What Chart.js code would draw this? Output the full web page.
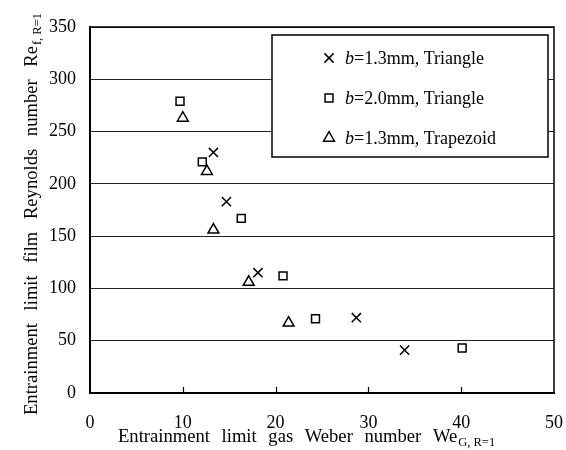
<!DOCTYPE html>
<html>
<head>
<meta charset="utf-8">
<script src="https://cdn.jsdelivr.net/npm/chart.js@4/dist/chart.umd.min.js"></script>
<style>
  html, body { margin: 0; padding: 0; background: #fff; }
  #wrap { width: 566px; height: 450px; }
</style>
</head>
<body>
<div id="wrap"><canvas id="chart" width="566" height="450"></canvas></div>
<script>
// ===== 資料=====
const seriesLabels = ['b=1.3mm, Triangle', 'b=2.0mm, Triangle', 'b=1.3mm, Trapezoid'];
const seriesStyles = ['crossRot', 'rect', 'triangle'];

const triA_We = [13.3, 14.7, 18.1, 28.7, 33.9];
const triA_Re = [230, 183, 115, 72, 41];

const triB_We = [9.7, 12.1, 16.3, 20.8, 24.3, 40.1];
const triB_Re = [279, 221, 167, 112, 71, 43];

const trap_We = [10.0, 12.6, 13.3, 17.1, 21.4];
const trap_Re = [263, 212, 156, 106, 67];

const xTicks = [0, 10, 20, 30, 40, 50];
const yTicks = [0, 50, 100, 150, 200, 250, 300, 350];

const SERIF = '"Liberation Serif", "DejaVu Serif", serif';

const toPts = (xs, ys) => xs.map((x, i) => ({ x: x, y: ys[i] }));

// ===== 軸標題（含下標）、外框、內側刻度、圖例 =====
const decorPlugin = {
  id: 'decor',
  afterDraw(chart) {
    const ctx = chart.ctx;
    const a = chart.chartArea;
    const xs = chart.scales.x;
    ctx.save();

    // 右、上外框
    ctx.strokeStyle = '#000';
    ctx.lineWidth = 1.5;
    ctx.beginPath();
    ctx.moveTo(a.left, a.top);
    ctx.lineTo(a.right, a.top);
    ctx.lineTo(a.right, a.bottom);
    ctx.stroke();

    // x 軸內側刻度
    ctx.lineWidth = 1.2;
    ctx.beginPath();
    xTicks.slice(1, -1).forEach(v => {
      const px = Math.round(xs.getPixelForValue(v)) + 0.5;
      ctx.moveTo(px, a.bottom);
      ctx.lineTo(px, a.bottom - 6);
    });
    ctx.stroke();

    // x 軸標題
    ctx.fillStyle = '#000';
    ctx.textBaseline = 'alphabetic';
    ctx.textAlign = 'left';
    ctx.font = '18.6px ' + SERIF;
    ctx.wordSpacing = '7px';
    const xt = 'Entrainment limit gas Weber number We';
    ctx.fillText(xt, 118, 442);
    let w = ctx.measureText(xt).width;
    ctx.wordSpacing = '0px';
    ctx.font = '12.5px ' + SERIF;
    ctx.fillText('G, R=1', 118 + w + 1, 446);

    // y 軸標題（旋轉）
    ctx.save();
    ctx.translate(37, 415);
    ctx.rotate(-Math.PI / 2);
    ctx.font = '18.6px ' + SERIF;
    ctx.wordSpacing = '8px';
    const yt = 'Entrainment limit film Reynolds number Re';
    ctx.fillText(yt, 0, 0);
    w = ctx.measureText(yt).width;
    ctx.wordSpacing = '0px';
    ctx.font = '12.5px ' + SERIF;
    ctx.fillText('f, R=1', w + 1, 4);
    ctx.restore();

    // 圖例
    const bx = 272, by = 35, bw = 276, bh = 122;
    ctx.fillStyle = '#fff';
    ctx.fillRect(bx, by, bw, bh);
    ctx.strokeStyle = '#000';
    ctx.lineWidth = 1.5;
    ctx.strokeRect(bx, by, bw, bh);

    chart.data.datasets.forEach((ds, i) => {
      const cy = 58 + i * 40;
      ctx.strokeStyle = '#000';
      ctx.fillStyle = 'rgba(0,0,0,0)';
      ctx.lineWidth = ds.pointBorderWidth;
      Chart.helpers.drawPoint(ctx, {
        pointStyle: ds.pointStyle,
        radius: ds.pointRadius,
        borderWidth: ds.pointBorderWidth,
        rotation: 0
      }, 329, cy);
      ctx.fillStyle = '#000';
      ctx.textBaseline = 'middle';
      ctx.font = 'italic 18px ' + SERIF;
      const b = 'b';
      ctx.fillText(b, 345, cy + 1);
      const bw2 = ctx.measureText(b).width;
      ctx.font = '18px ' + SERIF;
      ctx.fillText(ds.label.slice(1), 345 + bw2, cy + 1);
    });

    ctx.restore();
  }
};

const mkSet = (i, xs, ys, r) => ({
  label: seriesLabels[i],
  data: toPts(xs, ys),
  pointStyle: seriesStyles[i],
  pointRadius: r,
  pointHoverRadius: r,
  pointBorderWidth: 1.5,
  pointBorderColor: '#000',
  pointBackgroundColor: 'rgba(255,255,255,0)',
  showLine: false
});

new Chart(document.getElementById('chart'), {
  type: 'scatter',
  data: {
    datasets: [
      mkSet(0, triA_We, triA_Re, 6.5),
      mkSet(1, triB_We, triB_Re, 5.6),
      mkSet(2, trap_We, trap_Re, 6.3)
    ]
  },
  options: {
    responsive: false,
    animation: false,
    layout: { padding: { top: 27, right: 12, left: 0, bottom: 0 } },
    plugins: {
      legend: { display: false },
      tooltip: { enabled: false }
    },
    scales: {
      x: {
        type: 'linear',
        min: 0, max: 50,
        afterFit: s => { s.height = 57; s.paddingLeft = 0; s.paddingRight = 0; },
        afterBuildTicks: s => { s.ticks = xTicks.map(v => ({ value: v })); },
        ticks: {
          color: '#000',
          padding: 19,
          maxRotation: 0,
          font: { family: SERIF, size: 18 }
        },
        grid: { display: false, drawTicks: false },
        border: { display: true, color: '#000', width: 2 }
      },
      y: {
        type: 'linear',
        min: 0, max: 350,
        afterFit: s => { s.width = 90; s.paddingTop = 0; s.paddingBottom = 0; },
        afterBuildTicks: s => { s.ticks = yTicks.map(v => ({ value: v })); },
        ticks: {
          color: '#000',
          padding: 14,
          font: { family: SERIF, size: 18 }
        },
        grid: { color: '#222', lineWidth: 1, drawTicks: false },
        border: { display: true, color: '#000', width: 2 }
      }
    }
  },
  plugins: [decorPlugin]
});
</script>
</body>
</html>
